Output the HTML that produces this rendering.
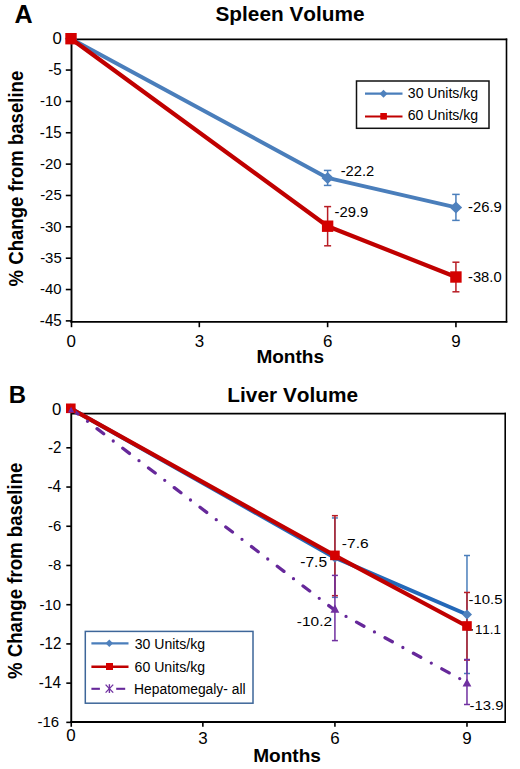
<!DOCTYPE html>
<html><head><meta charset="utf-8"><style>
html,body{margin:0;padding:0;background:#fff;}
svg{display:block;}
text{font-family:"Liberation Sans",sans-serif;font-kerning:none;}
</style></head><body>
<svg width="520" height="769" viewBox="0 0 520 769">
<rect width="520" height="769" fill="#fff"/>
<text transform="translate(14.62,22.50) scale(1.0105,1)" font-size="24.86" font-weight="bold" fill="#000" >A</text>
<text transform="translate(215.45,20.81) scale(0.9950,1)" font-size="20.92" font-weight="bold" fill="#000" >Spleen Volume</text>
<line x1="71.50" y1="39.40" x2="507.20" y2="39.40" stroke="#000" stroke-width="1.6" />
<line x1="506.50" y1="38.60" x2="506.50" y2="322.60" stroke="#000" stroke-width="1.6" />
<line x1="71.50" y1="38.60" x2="71.50" y2="322.60" stroke="#000" stroke-width="1.9" />
<line x1="70.50" y1="321.80" x2="507.30" y2="321.80" stroke="#000" stroke-width="1.8" />
<text transform="translate(52.43,43.69) scale(1.0500,1)" font-size="15.96" >0</text>
<line x1="65.80" y1="70.06" x2="71.50" y2="70.06" stroke="#000" stroke-width="1.6" />
<text transform="translate(48.26,74.85) scale(0.9700,1)" font-size="15.62" >-5</text>
<line x1="65.80" y1="101.41" x2="71.50" y2="101.41" stroke="#000" stroke-width="1.6" />
<text transform="translate(40.10,106.21) scale(0.9700,1)" font-size="15.40" >-10</text>
<line x1="65.80" y1="132.76" x2="71.50" y2="132.76" stroke="#000" stroke-width="1.6" />
<text transform="translate(39.84,137.56) scale(0.9700,1)" font-size="15.62" >-15</text>
<line x1="65.80" y1="164.12" x2="71.50" y2="164.12" stroke="#000" stroke-width="1.6" />
<text transform="translate(40.10,168.92) scale(0.9700,1)" font-size="15.40" >-20</text>
<line x1="65.80" y1="195.48" x2="71.50" y2="195.48" stroke="#000" stroke-width="1.6" />
<text transform="translate(40.14,200.27) scale(0.9700,1)" font-size="15.40" >-25</text>
<line x1="65.80" y1="226.83" x2="71.50" y2="226.83" stroke="#000" stroke-width="1.6" />
<text transform="translate(40.10,231.63) scale(0.9700,1)" font-size="15.40" >-30</text>
<line x1="65.80" y1="258.19" x2="71.50" y2="258.19" stroke="#000" stroke-width="1.6" />
<text transform="translate(40.14,262.98) scale(0.9700,1)" font-size="15.40" >-35</text>
<line x1="65.80" y1="289.54" x2="71.50" y2="289.54" stroke="#000" stroke-width="1.6" />
<text transform="translate(40.10,294.34) scale(0.9700,1)" font-size="15.40" >-40</text>
<line x1="65.80" y1="320.89" x2="71.50" y2="320.89" stroke="#000" stroke-width="1.6" />
<text transform="translate(39.84,325.69) scale(0.9700,1)" font-size="15.62" >-45</text>
<line x1="71.50" y1="321.70" x2="71.50" y2="327.20" stroke="#000" stroke-width="1.6" />
<text transform="translate(66.39,346.73) scale(1.0000,1)" font-size="16.95" >0</text>
<line x1="199.31" y1="321.70" x2="199.31" y2="327.20" stroke="#000" stroke-width="1.6" />
<text transform="translate(194.75,346.73) scale(1.0000,1)" font-size="16.95" >3</text>
<line x1="327.62" y1="321.70" x2="327.62" y2="327.20" stroke="#000" stroke-width="1.6" />
<text transform="translate(322.95,346.73) scale(1.0000,1)" font-size="16.95" >6</text>
<line x1="455.93" y1="321.70" x2="455.93" y2="327.20" stroke="#000" stroke-width="1.6" />
<text transform="translate(451.32,346.73) scale(1.0000,1)" font-size="16.95" >9</text>
<text transform="translate(256.38,363.47) scale(1.0353,1)" font-size="18.38" font-weight="bold" fill="#000" >Months</text>
<text transform="translate(22.80,286.46) rotate(-90) scale(0.9291,1)" font-size="20.00" font-weight="bold">% Change from baseline</text>
<polyline points="71.00,38.70 327.62,177.92 455.93,207.39" fill="none" stroke="#4A7EBB" stroke-width="4" stroke-linejoin="round" />
<polyline points="71.00,38.70 327.62,226.20 455.93,277.00" fill="none" stroke="#C00000" stroke-width="4.2" stroke-linejoin="round" />
<line x1="327.62" y1="170.42" x2="327.62" y2="185.42" stroke="#4A7EBB" stroke-width="1.5" />
<line x1="323.87" y1="170.42" x2="331.37" y2="170.42" stroke="#4A7EBB" stroke-width="1.5" />
<line x1="323.87" y1="185.42" x2="331.37" y2="185.42" stroke="#4A7EBB" stroke-width="1.5" />
<line x1="455.93" y1="194.39" x2="455.93" y2="220.39" stroke="#4A7EBB" stroke-width="1.5" />
<line x1="452.18" y1="194.39" x2="459.68" y2="194.39" stroke="#4A7EBB" stroke-width="1.5" />
<line x1="452.18" y1="220.39" x2="459.68" y2="220.39" stroke="#4A7EBB" stroke-width="1.5" />
<line x1="327.62" y1="206.60" x2="327.62" y2="245.80" stroke="#B81C24" stroke-width="1.5" />
<line x1="324.12" y1="206.60" x2="331.12" y2="206.60" stroke="#B81C24" stroke-width="1.5" />
<line x1="324.12" y1="245.80" x2="331.12" y2="245.80" stroke="#B81C24" stroke-width="1.5" />
<line x1="455.93" y1="262.20" x2="455.93" y2="291.80" stroke="#B81C24" stroke-width="1.5" />
<line x1="452.43" y1="262.20" x2="459.43" y2="262.20" stroke="#B81C24" stroke-width="1.5" />
<line x1="452.43" y1="291.80" x2="459.43" y2="291.80" stroke="#B81C24" stroke-width="1.5" />
<polygon points="71.00,32.70 77.20,38.70 71.00,44.70 64.80,38.70" fill="#4F81BD"/>
<polygon points="327.62,171.92 333.82,177.92 327.62,183.92 321.42,177.92" fill="#4F81BD"/>
<polygon points="455.93,201.39 462.13,207.39 455.93,213.39 449.73,207.39" fill="#4F81BD"/>
<rect x="65.30" y="33.00" width="11.4" height="11.4" fill="#D40000"/>
<rect x="321.92" y="220.50" width="11.4" height="11.4" fill="#D40000"/>
<rect x="450.23" y="271.30" width="11.4" height="11.4" fill="#D40000"/>
<text transform="translate(340.70,175.75) scale(1.0190,1)" font-size="14.46" fill="#000" >-22.2</text>
<text transform="translate(334.59,216.51) scale(1.0383,1)" font-size="14.27" fill="#000" >-29.9</text>
<text transform="translate(467.99,212.21) scale(1.0383,1)" font-size="14.27" fill="#000" >-26.9</text>
<text transform="translate(467.99,281.91) scale(1.0447,1)" font-size="14.12" fill="#000" >-38.0</text>
<rect x="356.5" y="81" width="132.5" height="47.3" fill="#fff" stroke="#111" stroke-width="1.5"/>
<line x1="365.00" y1="93.70" x2="402.50" y2="93.70" stroke="#4A7EBB" stroke-width="2.2" />
<polygon points="383.50,89.70 387.50,93.70 383.50,97.70 379.50,93.70" fill="#4F81BD"/>
<line x1="365.00" y1="116.50" x2="402.50" y2="116.50" stroke="#C00000" stroke-width="2.2" />
<rect x="380.30" y="113.00" width="6.6" height="6.6" fill="#D40000"/>
<text transform="translate(407.81,98.16) scale(1.0082,1)" font-size="13.95" fill="#000" >30 Units/kg</text>
<text transform="translate(407.63,120.48) scale(1.0187,1)" font-size="13.84" fill="#000" >60 Units/kg</text>
<text transform="translate(8.80,403.10) scale(0.9982,1)" font-size="23.98" font-weight="bold" fill="#000" >B</text>
<text transform="translate(227.36,401.85) scale(1.0266,1)" font-size="20.29" font-weight="bold" fill="#000" >Liver Volume</text>
<line x1="71.25" y1="413.60" x2="506.00" y2="413.60" stroke="#000" stroke-width="1.6" />
<line x1="505.20" y1="412.80" x2="505.20" y2="723.00" stroke="#000" stroke-width="1.6" />
<line x1="71.25" y1="412.90" x2="71.25" y2="723.00" stroke="#000" stroke-width="1.9" />
<line x1="70.25" y1="722.00" x2="506.00" y2="722.00" stroke="#000" stroke-width="1.8" />
<text transform="translate(51.93,415.39) scale(1.0500,1)" font-size="15.96" >0</text>
<line x1="66.30" y1="447.82" x2="71.25" y2="447.82" stroke="#000" stroke-width="1.6" />
<text transform="translate(47.90,452.97) scale(0.9700,1)" font-size="15.61" >-2</text>
<line x1="66.30" y1="487.04" x2="71.25" y2="487.04" stroke="#000" stroke-width="1.6" />
<text transform="translate(47.39,492.19) scale(0.9700,1)" font-size="15.84" >-4</text>
<line x1="66.30" y1="526.26" x2="71.25" y2="526.26" stroke="#000" stroke-width="1.6" />
<text transform="translate(47.98,531.26) scale(0.9700,1)" font-size="15.40" >-6</text>
<line x1="66.30" y1="565.48" x2="71.25" y2="565.48" stroke="#000" stroke-width="1.6" />
<text transform="translate(47.97,570.48) scale(0.9700,1)" font-size="15.40" >-8</text>
<line x1="66.30" y1="604.70" x2="71.25" y2="604.70" stroke="#000" stroke-width="1.6" />
<text transform="translate(39.60,609.70) scale(0.9700,1)" font-size="15.40" >-10</text>
<line x1="66.30" y1="643.92" x2="71.25" y2="643.92" stroke="#000" stroke-width="1.6" />
<text transform="translate(39.48,649.07) scale(0.9700,1)" font-size="15.61" >-12</text>
<line x1="66.30" y1="683.14" x2="71.25" y2="683.14" stroke="#000" stroke-width="1.6" />
<text transform="translate(38.84,688.29) scale(0.9700,1)" font-size="15.84" >-14</text>
<line x1="66.30" y1="722.36" x2="71.25" y2="722.36" stroke="#000" stroke-width="1.6" />
<text transform="translate(37.57,727.36) scale(0.9700,1)" font-size="15.40" >-16</text>
<line x1="71.25" y1="722.20" x2="71.25" y2="726.80" stroke="#000" stroke-width="1.6" />
<text transform="translate(66.19,740.83) scale(1.0000,1)" font-size="16.95" >0</text>
<line x1="202.86" y1="722.20" x2="202.86" y2="726.80" stroke="#000" stroke-width="1.6" />
<text transform="translate(198.30,743.63) scale(1.0000,1)" font-size="16.95" >3</text>
<line x1="334.92" y1="722.20" x2="334.92" y2="726.80" stroke="#000" stroke-width="1.6" />
<text transform="translate(330.25,743.63) scale(1.0000,1)" font-size="16.95" >6</text>
<line x1="466.98" y1="722.20" x2="466.98" y2="726.80" stroke="#000" stroke-width="1.6" />
<text transform="translate(462.37,743.63) scale(1.0000,1)" font-size="16.95" >9</text>
<text transform="translate(253.17,761.77) scale(1.0446,1)" font-size="18.25" font-weight="bold" fill="#000" >Months</text>
<text transform="translate(21.70,679.06) rotate(-90) scale(0.9325,1)" font-size="20.00" font-weight="bold">% Change from baseline</text>
<polyline points="70.80,408.60 334.92,557.64 466.98,614.50" fill="none" stroke="#2468B8" stroke-width="4.0" stroke-linejoin="round" />
<polyline points="70.80,408.60 334.92,555.67 466.98,626.27" fill="none" stroke="#C00000" stroke-width="4.2" stroke-linejoin="round" />
<polyline points="70.80,408.60 334.92,610.30 466.98,682.60" fill="none" stroke="#66289A" stroke-width="3.3" stroke-linejoin="round" stroke-dasharray="8.4 12 0 12" stroke-dashoffset="-0.6" stroke-linecap="round"/>
<line x1="334.92" y1="517.94" x2="334.92" y2="597.34" stroke="#4A7EBB" stroke-width="1.5" />
<line x1="331.92" y1="517.94" x2="337.92" y2="517.94" stroke="#4A7EBB" stroke-width="1.5" />
<line x1="331.92" y1="597.34" x2="337.92" y2="597.34" stroke="#4A7EBB" stroke-width="1.5" />
<line x1="466.98" y1="555.50" x2="466.98" y2="673.50" stroke="#4A7EBB" stroke-width="1.5" />
<line x1="463.98" y1="555.50" x2="469.98" y2="555.50" stroke="#4A7EBB" stroke-width="1.5" />
<line x1="463.98" y1="673.50" x2="469.98" y2="673.50" stroke="#4A7EBB" stroke-width="1.5" />
<line x1="334.92" y1="515.67" x2="334.92" y2="595.67" stroke="#B81C24" stroke-width="1.5" />
<line x1="331.92" y1="515.67" x2="337.92" y2="515.67" stroke="#B81C24" stroke-width="1.5" />
<line x1="331.92" y1="595.67" x2="337.92" y2="595.67" stroke="#B81C24" stroke-width="1.5" />
<line x1="466.98" y1="592.47" x2="466.98" y2="660.07" stroke="#B81C24" stroke-width="1.5" />
<line x1="463.98" y1="592.47" x2="469.98" y2="592.47" stroke="#B81C24" stroke-width="1.5" />
<line x1="463.98" y1="660.07" x2="469.98" y2="660.07" stroke="#B81C24" stroke-width="1.5" />
<line x1="334.92" y1="575.40" x2="334.92" y2="640.60" stroke="#7030A0" stroke-width="1.5" />
<line x1="331.92" y1="575.40" x2="337.92" y2="575.40" stroke="#7030A0" stroke-width="1.5" />
<line x1="331.92" y1="640.60" x2="337.92" y2="640.60" stroke="#7030A0" stroke-width="1.5" />
<line x1="466.98" y1="659.50" x2="466.98" y2="704.50" stroke="#7030A0" stroke-width="1.5" />
<line x1="463.98" y1="659.50" x2="469.98" y2="659.50" stroke="#7030A0" stroke-width="1.5" />
<line x1="463.98" y1="704.50" x2="469.98" y2="704.50" stroke="#7030A0" stroke-width="1.5" />
<text transform="translate(341.86,548.22) scale(1.1703,1)" font-size="13.28" fill="#000" >-7.6</text>
<text transform="translate(300.26,566.62) scale(1.1324,1)" font-size="13.76" fill="#000" >-7.5</text>
<text transform="translate(296.86,626.02) scale(1.1497,1)" font-size="13.42" fill="#000" >-10.2</text>
<text transform="translate(468.49,604.42) scale(1.1637,1)" font-size="12.85" fill="#000" >-10.5</text>
<text transform="translate(474.93,633.95) scale(0.9805,1)" font-size="13.66" fill="#000" >11.1</text>
<line x1="467.50" y1="629.90" x2="473.00" y2="629.90" stroke="#000" stroke-width="1.3" />
<text transform="translate(469.59,710.02) scale(1.1073,1)" font-size="13.42" fill="#000" >-13.9</text>
<polygon points="70.80,403.60 75.80,408.60 70.80,413.60 65.80,408.60" fill="#4F81BD"/>
<polygon points="334.92,552.64 339.92,557.64 334.92,562.64 329.92,557.64" fill="#4F81BD"/>
<polygon points="466.98,609.50 471.98,614.50 466.98,619.50 461.98,614.50" fill="#4F81BD"/>
<rect x="66.00" y="403.50" width="9.6" height="9.6" fill="#D40000"/>
<rect x="330.12" y="550.58" width="9.6" height="9.6" fill="#D40000"/>
<rect x="462.18" y="621.17" width="9.6" height="9.6" fill="#D40000"/>
<polygon points="71.10,406.80 74.30,412.40 67.90,412.40" fill="#6A2CA8"/>
<polygon points="334.92,604.35 339.32,612.65 330.52,612.65" fill="#7030A0"/>
<polygon points="466.98,678.40 471.38,686.60 462.58,686.60" fill="#7030A0"/>
<rect x="85.3" y="631.4" width="167.7" height="71.8" fill="#fff" stroke="#3D6699" stroke-width="1.5"/>
<line x1="91.40" y1="643.30" x2="128.50" y2="643.30" stroke="#4A7EBB" stroke-width="2.2" />
<polygon points="109.30,639.60 113.00,643.30 109.30,647.00 105.60,643.30" fill="#4F81BD"/>
<line x1="91.40" y1="666.70" x2="128.50" y2="666.70" stroke="#C00000" stroke-width="2.6" />
<rect x="106.00" y="663.00" width="7" height="7" fill="#D40000"/>
<line x1="91.40" y1="688.80" x2="99.90" y2="688.80" stroke="#66289A" stroke-width="2.1" />
<line x1="116.20" y1="688.80" x2="125.20" y2="688.80" stroke="#66289A" stroke-width="2.1" />
<line x1="109.40" y1="684.20" x2="109.40" y2="693.00" stroke="#7030A0" stroke-width="1.4" />
<line x1="105.60" y1="684.60" x2="113.20" y2="692.60" stroke="#7030A0" stroke-width="1.3" />
<line x1="105.60" y1="692.60" x2="113.20" y2="684.60" stroke="#7030A0" stroke-width="1.3" />
<text transform="translate(134.71,649.03) scale(1.0020,1)" font-size="14.05" fill="#000" >30 Units/kg</text>
<text transform="translate(134.53,671.53) scale(1.0046,1)" font-size="14.05" fill="#000" >60 Units/kg</text>
<text transform="translate(134.11,693.88) scale(1.0002,1)" font-size="13.84" fill="#000" >Hepatomegaly- all</text>
</svg>
</body></html>
